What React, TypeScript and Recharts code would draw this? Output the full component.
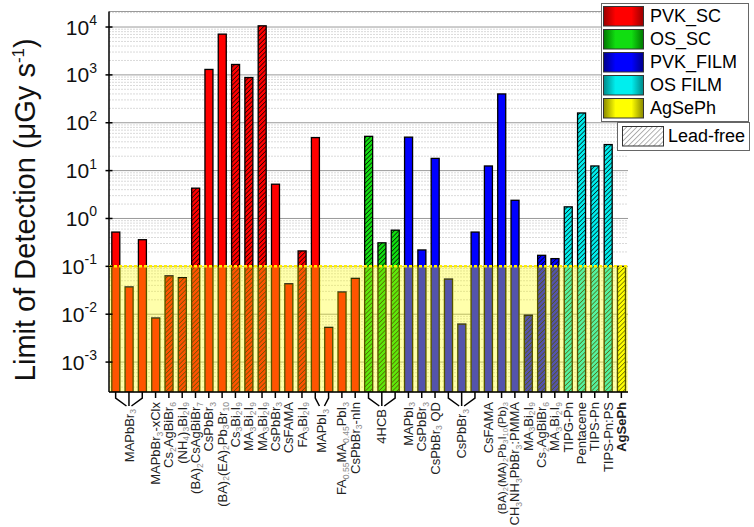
import React from 'react';
import {
  BarChart,
  Bar,
  XAxis,
  YAxis,
  CartesianGrid,
  ReferenceArea,
  ReferenceLine,
  Legend,
} from 'recharts';

// one label per bar; '' means the bar is labelled by a bracket below
const labels = [
  '', '', '', 'MAPbBr_{3}-xClx', 'Cs_{2}AgBiBr_{6}', '(NH_{4})_{3}Bi_{2}I_{9}',
  '(BA)_{2}CsAgBiBr_{7}', 'CsPbBr_{3}', '(BA)_{2}(EA)_{2}Pb_{3}Br_{10}', 'Cs_{3}Bi_{2}I_{9}',
  'MA_{3}Bi_{2}I_{9}', 'MA_{3}Bi_{2}I_{9}', 'CsPbBr_{3}', 'CsFAMA', 'FA_{3}Bi_{2}I_{9}',
  '', '', 'FA_{0.55}MA_{0.45}PbI_{3}', 'CsPbBr_{3}-nIn',
  '', '', '',
  'MAPbI_{3}', 'CsPbBr_{3}', 'CsPbBr_{3} QD', '', '', '', 'CsFAMA',
  '(BA)_{2}(MA)_{2}Pb_{3}I_{10}(Pb)_{3}', 'CH_{3}NH_{3}PbBr_{3}:PMMA', 'MA_{3}Bi_{2}I_{9}',
  'Cs_{2}AgBiBr_{6}', 'MA_{3}Bi_{2}I_{9}',
  'TIPG-Pn', 'Pentacene', 'TIPS-Pn', 'TIPS-Pn:PS',
  'AgSePh',
];

// limit of detection, µGy/s
const values = [
  0.52, 0.037, 0.36, 0.0083, 0.063, 0.058, 4.3, 1300, 7100, 1650,
  880, 10600, 5.2, 0.043, 0.21, 49, 0.0053, 0.029, 0.056,
  52, 0.31, 0.57,
  50, 0.22, 18, 0.054, 0.0062, 0.52, 12.5, 400, 2.4, 0.0095, 0.17, 0.145,
  1.75, 160, 12.5, 35,
  0.1,
];

// index into seriesNames for every bar
const groups = [
  0, 0, 0, 0, 0, 0, 0, 0, 0, 0, 0, 0, 0, 0, 0, 0, 0, 0, 0,
  1, 1, 1,
  2, 2, 2, 2, 2, 2, 2, 2, 2, 2, 2, 2,
  3, 3, 3, 3,
  4,
];

// 1 = lead-free (hatched)
const leadFree = [
  0, 0, 0, 0, 1, 1, 1, 0, 0, 1, 1, 1, 0, 0, 1, 0, 0, 0, 0,
  1, 1, 1,
  0, 0, 0, 0, 0, 0, 0, 0, 0, 1, 1, 1,
  1, 1, 1, 1,
  1,
];

const seriesNames = ['PVK_SC', 'OS_SC', 'PVK_FILM', 'OS FILM', 'AgSePh'];
const seriesColors = ['#ff0000', '#11dd11', '#0000ff', '#00eeee', '#ffff00'];
const seriesEdges = ['#990000', '#007700', '#000088', '#008888', '#888800'];

const brackets = [
  { from: 0, to: 2, label: 'MAPbBr_{3}' },
  { from: 15, to: 16, label: 'MAPbI_{3}' },
  { from: 19, to: 21, label: '4HCB' },
  { from: 25, to: 27, label: 'CsPbBr_{3}' },
];

const majorTicks = [1e-3, 1e-2, 1e-1, 1, 10, 100, 1000, 10000];
const yDomain = [2.37e-4, 2.11e4];
const threshold = 0.1;

const minorTicks: number[] = [];
for (let d = -4; d <= 4; d++) {
  for (let k = 2; k <= 9; k++) {
    const v = k * Math.pow(10, d);
    if (v > yDomain[0] && v < yDomain[1]) minorTicks.push(v);
  }
}

const data = values.map((v, i) => ({
  key: String(i),
  value: v,
  group: groups[i],
  leadFree: leadFree[i] === 1,
}));

const FONT = '"Liberation Sans", Arial, sans-serif';

function subText(text: string, size: number) {
  const parts = text.split(/_\{([^}]*)\}/);
  const out: any[] = [];
  let down = false;
  parts.forEach((p, k) => {
    if (p === '') return;
    if (k % 2 === 1) {
      out.push(
        <tspan key={k} fontSize={size * 0.66} fill="#8c8c8c" dy={down ? 0 : 2.5}>
          {p}
        </tspan>
      );
      down = true;
    } else {
      out.push(
        <tspan key={k} dy={down ? -2.5 : 0}>
          {p}
        </tspan>
      );
      down = false;
    }
  });
  return out;
}

function CategoryLabel({ x, y, text }: { x: number; y: number; text: string }) {
  const bold = text === 'AgSePh';
  // the longest formula is set a little smaller so it stays on the page
  const size = text.length > 32 ? 11.5 : 13;
  const lx = x + size * 0.35;
  return (
    <text
      x={lx}
      y={y}
      transform={`rotate(-90 ${lx} ${y})`}
      textAnchor="end"
      fontSize={size}
      fontWeight={bold ? 'bold' : 'normal'}
      fill="#222"
      fontFamily={FONT}
    >
      {subText(text, size)}
    </text>
  );
}

function CategoryTick(props: any) {
  const { x, y, payload, width } = props;
  const i = Number(payload.value);
  const step = width ? width / data.length : 13.3;
  const br = brackets.find((b) => i >= b.from && i <= b.to);
  if (br) {
    const cx = x + ((br.from + br.to) / 2 - i) * step;
    const tipY = y + 14;
    return (
      <g>
        {Math.abs(cx - x) < 0.5 ? (
          <line x1={x} y1={y} x2={x} y2={tipY} stroke="#000" strokeWidth={1.5} />
        ) : (
          <polyline
            points={`${x},${y} ${x},${y + 6} ${cx + (x < cx ? -2.5 : 2.5)},${tipY}`}
            fill="none"
            stroke="#000"
            strokeWidth={1.5}
          />
        )}
        {i === br.from && <CategoryLabel x={cx} y={y + 17} text={br.label} />}
      </g>
    );
  }
  return (
    <g>
      <line x1={x} y1={y} x2={x} y2={y + 6} stroke="#000" strokeWidth={1.5} />
      {labels[i] && <CategoryLabel x={x} y={y + 10} text={labels[i]} />}
    </g>
  );
}

function PowerTick(props: any) {
  const { x, y, payload } = props;
  const exp = Math.round(Math.log10(payload.value));
  return (
    <g>
      <line x1={x - 3.5} y1={y} x2={x + 3.5} y2={y} stroke="#000" strokeWidth={1.5} />
      <text x={x - 12} y={y + 7.5} textAnchor="end" fontSize={21} fill="#111" fontFamily={FONT}>
        10
        <tspan dy={-9.5} fontSize={14}>
          {exp}
        </tspan>
      </text>
    </g>
  );
}

function MinorTick(props: any) {
  const { x, y } = props;
  return <line x1={x - 2.5} y1={y} x2={x + 2.5} y2={y} stroke="#000" strokeWidth={1} />;
}

function DetectionBar(props: any) {
  const { x, y, width, height, payload } = props;
  if (!height || height <= 0) return null;
  const bottom = y + height;
  const lo = Math.log10(yDomain[0]);
  const frac = (Math.log10(threshold) - lo) / (Math.log10(payload.value) - lo);
  const yT = frac >= 1 ? y : bottom - height * frac;
  return (
    <g>
      <rect x={x} y={y} width={width} height={height} fill={seriesColors[payload.group]} />
      {payload.leadFree && <rect x={x} y={y} width={width} height={height} fill="url(#hatch)" />}
      <rect x={x} y={y} width={width} height={height} fill="none" stroke="#000" strokeWidth={1.3} />
      <rect x={x - 1} y={yT} width={width + 2} height={bottom - yT} fill="#ffff00" fillOpacity={0.33} />
    </g>
  );
}

function LegendBox() {
  return (
    <div style={{ position: 'relative', width: 149, height: 148, fontFamily: FONT, fontSize: 18, color: '#000' }}>
      <div
        style={{
          position: 'absolute',
          left: 0,
          top: 0,
          width: 146,
          height: 117,
          border: '1px solid #666',
          background: '#fff',
        }}
      >
        {seriesNames.map((n, i) => (
          <div
            key={n}
            style={{ position: 'absolute', left: 1, top: 2 + i * 23, height: 21, display: 'flex', alignItems: 'center' }}
          >
            <svg width={42} height={21} style={{ display: 'block' }}>
              <rect x={0.5} y={0.5} width={40} height={19.5} fill={`url(#grad${i})`} stroke="#333" />
            </svg>
            <span style={{ marginLeft: 5, lineHeight: '21px' }}>{n}</span>
          </div>
        ))}
      </div>
      <div
        style={{
          position: 'absolute',
          left: 16,
          top: 119,
          width: 131,
          height: 27,
          border: '1px solid #666',
          background: '#fff',
          display: 'flex',
          alignItems: 'center',
        }}
      >
        <svg width={46} height={21} style={{ display: 'block', marginLeft: 4 }}>
          <rect x={0.5} y={0.5} width={41} height={19.5} fill="#fff" />
          <rect x={0.5} y={0.5} width={41} height={19.5} fill="url(#hatchGray)" stroke="#333" />
        </svg>
        <span style={{ marginLeft: 0 }}>Lead-free</span>
      </div>
    </div>
  );
}

export default function App() {
  return (
    <div style={{ position: 'absolute', left: 0, top: 0, width: 754, height: 527, background: '#fff' }}>
      <svg width={0} height={0} style={{ position: 'absolute' }}>
        <defs>
          <pattern id="hatch" patternUnits="userSpaceOnUse" width={3.2} height={3.2} patternTransform="rotate(45)">
            <line x1={0} y1={0} x2={0} y2={3.2} stroke="#000" strokeWidth={1.3} />
          </pattern>
          <pattern id="hatchGray" patternUnits="userSpaceOnUse" width={3.6} height={3.6} patternTransform="rotate(45)">
            <line x1={0} y1={0} x2={0} y2={3.6} stroke="#666" strokeWidth={1} />
          </pattern>
          {seriesColors.map((c, i) => (
            <linearGradient key={c} id={`grad${i}`} x1="0" y1="0" x2="1" y2="0">
              <stop offset="0" stopColor={seriesEdges[i]} />
              <stop offset="0.3" stopColor={c} />
              <stop offset="0.7" stopColor={c} />
              <stop offset="1" stopColor={seriesEdges[i]} />
            </linearGradient>
          ))}
        </defs>
      </svg>
      <BarChart
        width={754}
        height={527}
        data={data}
        margin={{ top: 11.5, right: 126, left: 49, bottom: 5 }}
        barCategoryGap="21%"
        style={{ fontFamily: FONT }}
      >
        <CartesianGrid yAxisId="minor" vertical={false} stroke="#dadada" strokeDasharray="2 1" />
        <CartesianGrid vertical={false} stroke="#9a9a9a" />
        <XAxis
          dataKey="key"
          interval={0}
          height={130}
          tickSize={0}
          tickMargin={0}
          tickLine={false}
          tick={<CategoryTick />}
          axisLine={{ stroke: '#000', strokeWidth: 1.5 }}
        />
        <XAxis
          xAxisId="top"
          dataKey="key"
          orientation="top"
          height={0}
          tick={false}
          tickLine={false}
          axisLine={{ stroke: '#000', strokeWidth: 1.5 }}
        />
        <YAxis
          yAxisId="minor"
          scale="log"
          domain={yDomain}
          allowDataOverflow
          ticks={minorTicks}
          interval={0}
          width={0}
          tickSize={0}
          tickMargin={0}
          tickLine={false}
          axisLine={false}
          tick={<MinorTick />}
        />
        <YAxis
          scale="log"
          domain={yDomain}
          allowDataOverflow
          ticks={majorTicks}
          interval={0}
          width={60}
          tickSize={0}
          tickMargin={0}
          tickLine={false}
          tick={<PowerTick />}
          axisLine={{ stroke: '#000', strokeWidth: 1.5 }}
          label={{
            content: (p: any) => {
              const vb = p.viewBox || { x: 49, y: 11.5, height: 380 };
              const tx = vb.x - 14;
              const ty = vb.y + vb.height / 2 + 8;
              return (
                <text
                  x={tx}
                  y={ty}
                  transform={`rotate(-90 ${tx} ${ty})`}
                  textAnchor="middle"
                  fontSize={29}
                  fill="#111"
                  fontFamily={FONT}
                >
                  Limit of Detection (μGy s
                  <tspan dy={-11} fontSize={17}>
                    -1
                  </tspan>
                  <tspan dy={11}>)</tspan>
                </text>
              );
            },
          }}
        />
        <YAxis
          yAxisId="frame"
          orientation="right"
          type="number"
          domain={[0, 1]}
          width={0}
          tick={false}
          tickLine={false}
          axisLine={{ stroke: '#000', strokeWidth: 1.5 }}
        />
        <ReferenceArea y1={yDomain[0]} y2={threshold} fill="#ffff00" fillOpacity={0.33} stroke="none" zIndex={-60} />
        <Bar dataKey="value" isAnimationActive={false} shape={<DetectionBar />} />
        <ReferenceLine y={threshold} stroke="#ffee00" strokeWidth={2.5} strokeDasharray="3 2" zIndex={650} />
        <Legend
          layout="horizontal"
          verticalAlign="middle"
          align="center"
          wrapperStyle={{ top: 3, left: 601, width: 149, height: 148 }}
          content={() => <LegendBox />}
        />
      </BarChart>
    </div>
  );
}
